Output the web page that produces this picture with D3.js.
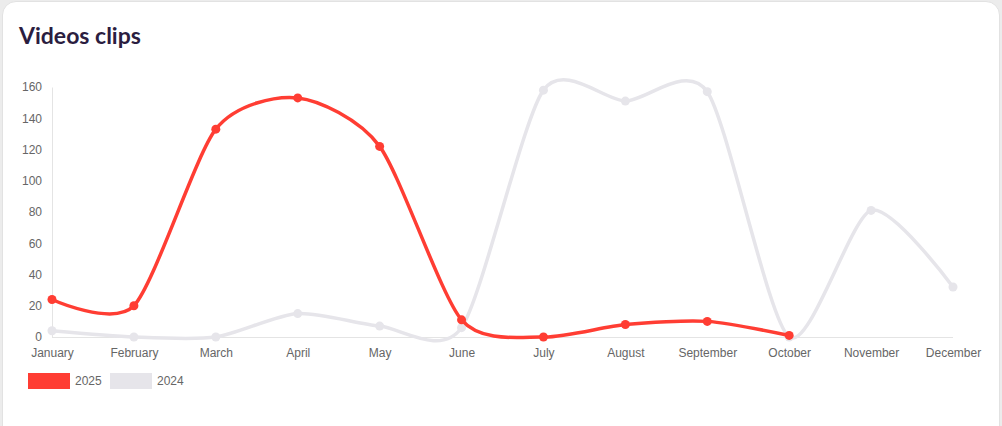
<!DOCTYPE html>
<html><head><meta charset="utf-8">
<script src="https://cdn.jsdelivr.net/npm/d3@7"></script>
<style>
body{margin:0;background:#ececec;font-family:"Liberation Sans",Arial,sans-serif;}
#card{position:absolute;left:2px;top:1px;width:996px;height:440px;background:#fff;border-radius:14px;border:1px solid #e2e2e2;}
</style></head><body>
<div id="card"></div>
<svg id="chart" width="1002" height="426" style="position:absolute;left:0;top:0"></svg>
<script>
const months = ["January","February","March","April","May","June","July","August","September","October","November","December"];
const values2025 = [24, 20, 133, 153, 122, 11, 0, 8, 10, 1];
const values2024 = [4, 0, 0, 15, 7, 6, 158, 151, 157, 0, 81, 32];
const yTicks = [0, 20, 40, 60, 80, 100, 120, 140, 160];

const svg = d3.select("#chart");
const x = d3.scalePoint().domain(months).range([52, 953]);
const y = d3.scaleLinear().domain([0, 160]).range([337, 87]);

svg.append("text").attr("x", 19).attr("y", 44).attr("font-size", 23).attr("font-weight", "bold")
  .attr("fill", "#2b1d40").attr("font-family", "Lato, sans-serif").text("Videos clips");

const yAxis = svg.append("g").attr("transform", "translate(52,0)")
  .call(d3.axisLeft(y).tickValues(yTicks).tickSize(0).tickPadding(10));
const xAxis = svg.append("g").attr("transform", "translate(0,337)")
  .call(d3.axisBottom(x).tickSize(0).tickPadding(11));
[xAxis, yAxis].forEach(g => {
  g.select(".domain").attr("stroke", "#e4e4e4");
  g.selectAll("text").attr("font-size", 12).attr("fill", "#666").attr("font-family", "Liberation Sans, Arial");
});
xAxis.select(".domain").attr("d", "M52,0.5H953");

const series = [
  {vals: values2024, color: "#e6e5ea"},
  {vals: values2025, color: "#ff3d33"}
];
const line = d3.line().x((d, i) => x(months[i])).y(d => y(d)).curve(d3.curveCardinal.tension(0.25));
series.forEach(s => {
  svg.append("path").attr("d", line(s.vals)).attr("fill", "none").attr("stroke", s.color).attr("stroke-width", 3.5);
  svg.append("g").selectAll("circle").data(s.vals).join("circle")
    .attr("cx", (d, i) => x(months[i])).attr("cy", d => y(d)).attr("r", 4.5).attr("fill", s.color);
});

const legend = [{label: "2025", color: "#ff3d33", x: 28}, {label: "2024", color: "#e6e5ea", x: 110}];
legend.forEach(l => {
  svg.append("rect").attr("x", l.x).attr("y", 373).attr("width", 42).attr("height", 16).attr("fill", l.color);
  svg.append("text").attr("x", l.x + 47).attr("y", 385).attr("font-size", 12).attr("fill", "#666").text(l.label);
});
</script></body></html>
